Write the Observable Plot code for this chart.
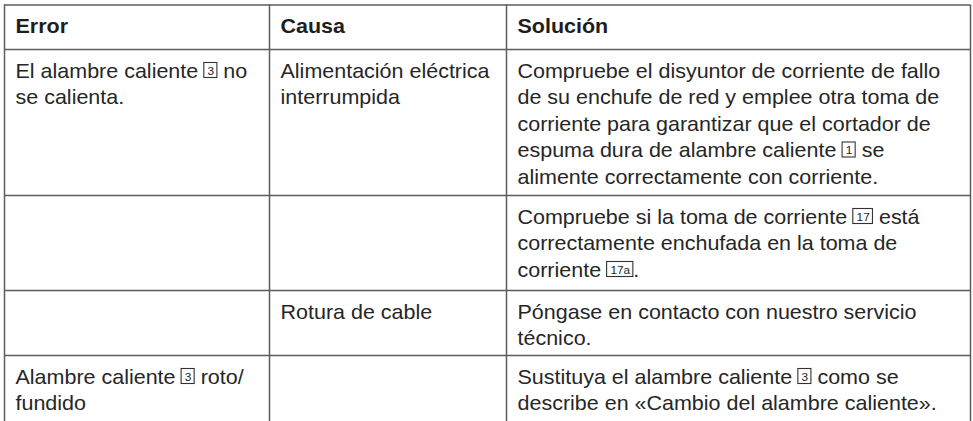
<!DOCTYPE html>
<html><head><meta charset="utf-8">
<script src="https://cdn.jsdelivr.net/npm/d3@7"></script>
<script src="https://cdn.jsdelivr.net/npm/@observablehq/plot@0.6"></script>
<style>html,body{margin:0;padding:0;background:#fff;} svg{display:block}</style>
</head><body><div id="chart"></div>
<script>
// ---- table content ----
const headers = ["Error", "Causa", "Solución"];
const errorCol = [
  ["El alambre caliente [3] no", "se calienta."],
  [],
  [],
  ["Alambre caliente [3] roto/", "fundido"]
];
const causeCol = [
  ["Alimentación eléctrica", "interrumpida"],
  [],
  ["Rotura de cable"],
  []
];
const solutionCol = [
  ["Compruebe el disyuntor de corriente de fallo",
   "de su enchufe de red y emplee otra toma de",
   "corriente para garantizar que el cortador de",
   "espuma dura de alambre caliente [1] se",
   "alimente correctamente con corriente."],
  ["Compruebe si la toma de corriente [17] está",
   "correctamente enchufada en la toma de",
   "corriente [17a]."],
  ["Póngase en contacto con nuestro servicio",
   "técnico."],
  ["Sustituya el alambre caliente [3] como se",
   "describe en «Cambio del alambre caliente»."]
];

// ---- layout ----
const W = 973, H = 421, FS = 20, BFS = 11, LH = 26.5, SX = 1.075;
const FONT = "Liberation Sans";
const colEdges = [4, 269, 506, 970];
const rowEdges = [4.5, 49, 195, 290, 355];
const padX = 11, firstBase = 28, headBase = 27.5;

const ctx = document.createElement("canvas").getContext("2d");
function measure(t, size, weight) {
  ctx.font = `${weight || "normal"} ${size}px "${FONT}"`;
  return ctx.measureText(t).width * SX;
}

const headTexts = [], texts = [], boxes = [], labels = [];
function layoutLine(str, x0, base, target, weight) {
  const parts = str.split(/\[([^\]]+)\]/);
  let x = x0;
  parts.forEach((p, i) => {
    if (i % 2 === 0) {
      if (!p) return;
      const lead = p.match(/^\s*/)[0];
      x += measure(lead, FS, weight);
      const body = p.slice(lead.length);
      if (body.trim()) target.push({x, y: base, text: body.trimEnd()});
      x += measure(body, FS, weight);
    } else {
      const w = measure(p, BFS) + 6.5;
      boxes.push({x1: x, x2: x + w, y1: base - 14.5, y2: base + 0.5});
      labels.push({x: x + w / 2, y: base - 3, text: p});
      x += w;
    }
  });
}

headers.forEach((h, c) => layoutLine(h, colEdges[c] + padX, rowEdges[0] + headBase, headTexts, "bold"));
[errorCol, causeCol, solutionCol].forEach((col, c) => {
  col.forEach((lines, r) => {
    lines.forEach((ln, k) => layoutLine(ln, colEdges[c] + padX, rowEdges[r + 1] + firstBase + k * LH, texts));
  });
});

const lineColor = "#5c5c5c";
const chart = Plot.plot({
  width: W, height: H, margin: 0,
  x: {type: "linear", domain: [0, W], range: [0, W], axis: null},
  y: {type: "linear", domain: [0, H], range: [0, H], axis: null},
  style: {fontFamily: `"${FONT}", Arial, sans-serif`, background: "#fff", color: "#222"},
  marks: [
    Plot.ruleY(rowEdges, {y: d => d, x1: colEdges[0], x2: colEdges[3], stroke: lineColor, strokeWidth: 1.5}),
    Plot.ruleX(colEdges, {x: d => d, y1: rowEdges[0], y2: H, stroke: lineColor, strokeWidth: 1.5}),
    Plot.text(headTexts, {x: "x", y: "y", text: "text", textAnchor: "start", lineAnchor: "bottom", fontSize: FS, fontWeight: "bold", fill: "#1e1e1e"}),
    Plot.text(texts, {x: "x", y: "y", text: "text", textAnchor: "start", lineAnchor: "bottom", fontSize: FS, fill: "#262626"}),
    Plot.rect(boxes, {x1: "x1", x2: "x2", y1: "y1", y2: "y2", fill: "none", stroke: "#333", strokeWidth: 1.1}),
    Plot.text(labels, {x: "x", y: "y", text: "text", textAnchor: "middle", lineAnchor: "bottom", fontSize: BFS, fill: "#1e1e1e"})
  ]
});
// horizontal stretch of glyphs to match the reference typeface width
chart.querySelectorAll("text").forEach(t => {
  const tr = t.getAttribute("transform");
  if (tr) t.setAttribute("transform", tr + ` scale(${SX},1)`);
  else {
    const x = +t.getAttribute("x") || 0, y = +t.getAttribute("y") || 0;
    t.setAttribute("transform", `translate(${x},${y}) scale(${SX},1) translate(${-x},${-y})`);
  }
});
document.getElementById("chart").append(chart);
</script>
</body></html>
